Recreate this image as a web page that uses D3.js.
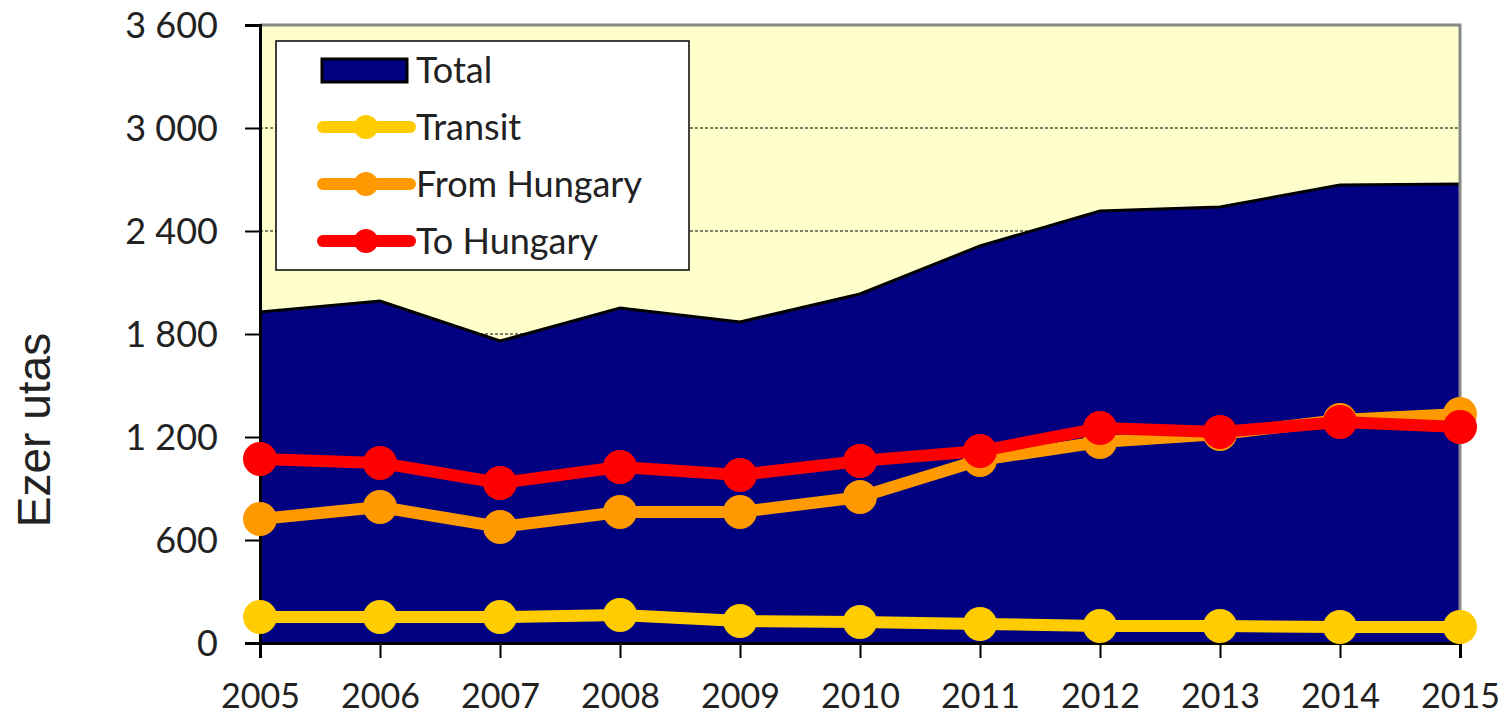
<!DOCTYPE html>
<html>
<head>
<meta charset="utf-8">
<script src="https://cdn.jsdelivr.net/npm/d3@7"></script>
<style>
  body { margin: 0; background: #fff; }
  svg text { font-family: Lato, "Open Sans", sans-serif; fill: #222; }
</style>
</head>
<body>
<div id="chart"></div>
<script>
// data (thousand passengers)
const years = [2005, 2006, 2007, 2008, 2009, 2010, 2011, 2012, 2013, 2014, 2015];
const total = [1928, 1992, 1759, 1951, 1870, 2033, 2313, 2516, 2540, 2668, 2674];
const transit = [151, 151, 151, 163, 128, 122, 111, 99, 99, 93, 93];
const fromHungary = [722, 792, 676, 763, 763, 850, 1066, 1171, 1217, 1299, 1334];
const toHungary = [1072, 1049, 932, 1025, 979, 1060, 1118, 1252, 1229, 1287, 1258];
const yTicks = [0, 600, 1200, 1800, 2400, 3000, 3600];

const width = 1509, height = 718;
const plotL = 260, plotR = 1460, plotT = 25, plotB = 643;

const svg = d3.select('#chart').append('svg')
    .attr('width', width)
    .attr('height', height);

const x = d3.scaleLinear().domain([2005, 2015]).range([plotL, plotR]);
const y = d3.scaleLinear().domain([0, 3600]).range([plotB, plotT]);

// plot background
svg.append('rect')
    .attr('x', plotL).attr('y', plotT)
    .attr('width', plotR - plotL).attr('height', plotB - plotT)
    .attr('fill', '#FFFFCC');

// dashed grid
svg.selectAll('.grid')
    .data(yTicks.filter(d => d > 0 && d < 3600))
    .enter()
    .append('line')
    .attr('x1', plotL).attr('x2', plotR)
    .attr('y1', d => y(d)).attr('y2', d => y(d))
    .attr('stroke', '#000')
    .attr('stroke-width', 1)
    .attr('stroke-dasharray', '3,2');

// total area
const area = d3.area()
    .x((d, i) => x(years[i]))
    .y0(y(0))
    .y1(d => y(d));
svg.append('path')
    .datum(total)
    .attr('d', area)
    .attr('fill', '#000080');
svg.append('path')
    .datum(total)
    .attr('d', d3.line().x((d, i) => x(years[i])).y(d => y(d)))
    .attr('fill', 'none')
    .attr('stroke', '#000')
    .attr('stroke-width', 3);

// grey top / right border
svg.append('path')
    .attr('d', `M${plotL},${plotT}H${plotR}V${plotB}`)
    .attr('fill', 'none')
    .attr('stroke', '#888')
    .attr('stroke-width', 3);

// axes
const yAxis = d3.axisLeft(y)
    .tickValues(yTicks)
    .tickSize(15)
    .tickPadding(27)
    .tickFormat(d => d3.format(',')(d).replace(',', ' '));
const gy = svg.append('g')
    .attr('transform', `translate(${plotL},0)`)
    .call(yAxis);

const xAxis = d3.axisBottom(x)
    .tickValues(years)
    .tickSize(15)
    .tickPadding(26)
    .tickFormat(d3.format('d'));
const gx = svg.append('g')
    .attr('transform', `translate(0,${plotB})`)
    .call(xAxis);

[gx, gy].forEach(g => {
    g.select('.domain').attr('stroke', '#000').attr('stroke-width', 3);
    g.selectAll('.tick line').attr('stroke', '#000').attr('stroke-width', 2);
    g.selectAll('.tick text').attr('font-size', 36).attr('fill', '#222')
        .style('font-family', 'Lato, "Open Sans", sans-serif');
});
gy.selectAll('.tick text').attr('dy', '0.36em');
gx.selectAll('.tick text').attr('font-size', 34).attr('dy', '0.7em');

// series lines
const series = [
    { name: 'Transit', values: transit, color: '#FFCC00' },
    { name: 'From Hungary', values: fromHungary, color: '#FF9900' },
    { name: 'To Hungary', values: toHungary, color: '#FF0000' }
];
const line = d3.line().x((d, i) => x(years[i])).y(d => y(d));

series.forEach(s => {
    svg.append('path')
        .datum(s.values)
        .attr('d', line)
        .attr('fill', 'none')
        .attr('stroke', s.color)
        .attr('stroke-width', 12)
        .attr('stroke-linejoin', 'round');
    svg.selectAll(null)
        .data(s.values)
        .enter()
        .append('circle')
        .attr('cx', (d, i) => x(years[i]))
        .attr('cy', d => y(d))
        .attr('r', 17)
        .attr('fill', s.color);
});

// legend
const lg = svg.append('g').attr('transform', 'translate(276,41)');
lg.append('rect')
    .attr('width', 413).attr('height', 229)
    .attr('fill', '#fff')
    .attr('stroke', '#000')
    .attr('stroke-width', 1.5);

const rows = [{ name: 'Total', color: '#000080' }].concat(series);
rows.forEach((r, i) => {
    const cy = 29 + i * 57;
    if (i === 0) {
        lg.append('rect')
            .attr('x', 46).attr('y', cy - 11)
            .attr('width', 85).attr('height', 23)
            .attr('fill', r.color)
            .attr('stroke', '#000').attr('stroke-width', 3);
    } else {
        lg.append('line')
            .attr('x1', 47).attr('x2', 134)
            .attr('y1', cy).attr('y2', cy)
            .attr('stroke', r.color)
            .attr('stroke-width', 12)
            .attr('stroke-linecap', 'round');
        lg.append('circle')
            .attr('cx', 90).attr('cy', cy)
            .attr('r', 12)
            .attr('fill', r.color);
    }
    lg.append('text')
        .attr('x', 140).attr('y', cy)
        .attr('dy', '0.36em')
        .attr('font-size', 36)
        .text(r.name);
});

// y title
svg.append('text')
    .attr('transform', 'translate(50,430) rotate(-90)')
    .attr('text-anchor', 'middle')
    .attr('font-size', 46)
    .style('font-family', '"Liberation Sans", Arial, sans-serif')
    .text('Ezer utas');
</script>
</body>
</html>
